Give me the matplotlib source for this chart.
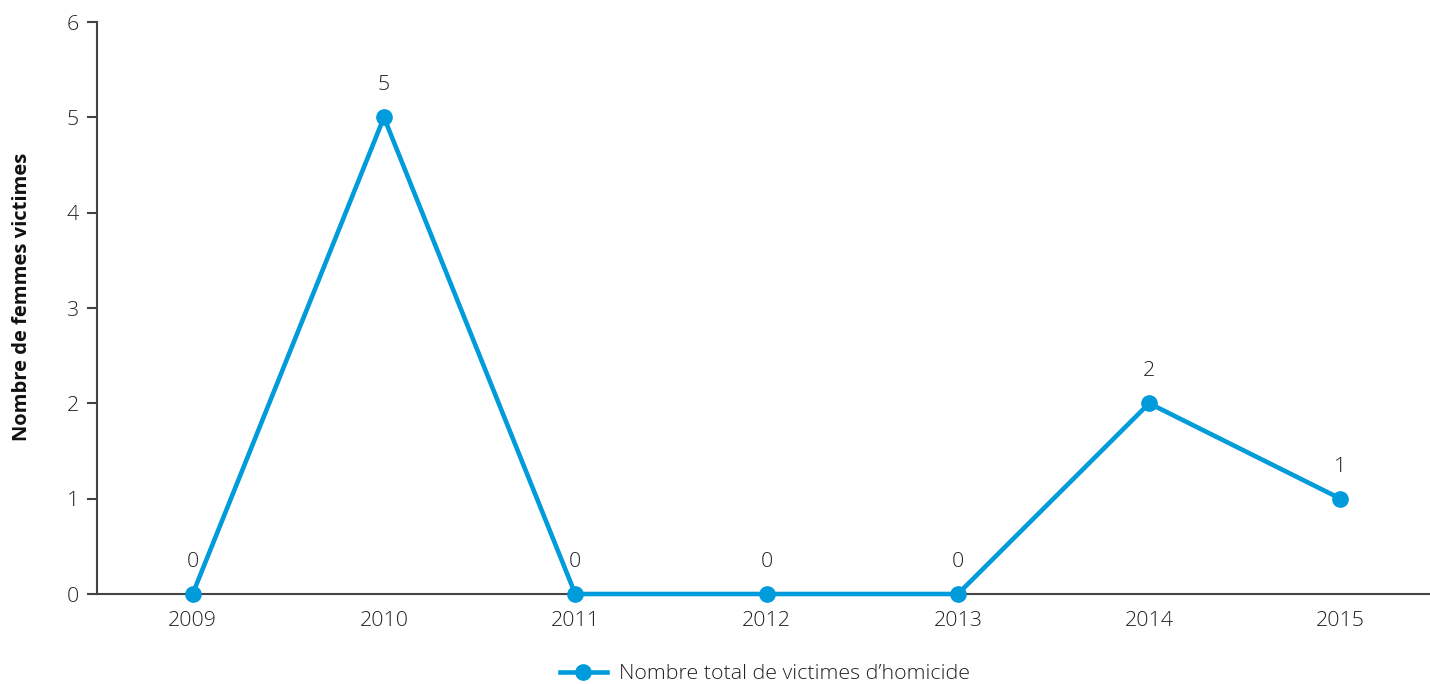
import matplotlib
matplotlib.use("Agg")
import matplotlib.pyplot as plt
from matplotlib.lines import Line2D

years = ["2009", "2010", "2011", "2012", "2013", "2014", "2015"]
victims = [0, 5, 0, 0, 0, 2, 1]
y_ticks = [0, 1, 2, 3, 4, 5, 6]
series_label = "Nombre total de victimes d\u2019homicide"
y_label = "Nombre de femmes victimes"

plt.rcParams['font.family'] = ['Open Sans', 'DejaVu Sans']
BLUE = "#009BDA"
AXC = "#444444"
TXT = "#222222"
FS = 15.4

W, H = 1430, 684
fig = plt.figure(figsize=(W / 100, H / 100), dpi=100)
L, B, T, R = 97, 594, 22, 1436
ax = fig.add_axes([L / W, (H - B) / H, (R - L) / W, (B - T) / H])

x = list(range(len(years)))
ax.plot(x, victims, color=BLUE, lw=3.3, marker="o", ms=11, clip_on=False, zorder=3)
for xi, v in zip(x, victims):
    ax.annotate(str(v), (xi, v), xytext=(0, 23), textcoords="offset points",
                ha="center", va="center", fontsize=FS, color=TXT, fontweight="light")

ax.set_xlim(-0.5, -0.5 + (R - L) / 191.3)
ax.set_ylim(0, 6)
ax.set_yticks(y_ticks)
ax.set_yticklabels([str(t) for t in y_ticks])
ax.set_xticks(x)
ax.set_xticklabels(years)
for sp in ["top", "right"]:
    ax.spines[sp].set_visible(False)
for sp in ["left", "bottom"]:
    ax.spines[sp].set_color(AXC)
    ax.spines[sp].set_linewidth(1.5)
ax.tick_params(axis="y", length=7, width=1.5, color=AXC, pad=6, labelsize=FS, labelcolor=TXT)
ax.tick_params(axis="x", length=0, pad=12, labelsize=FS, labelcolor=TXT)
for lab in ax.get_xticklabels() + ax.get_yticklabels():
    lab.set_fontweight("light")

fig.text(22 / W, 1 - 297 / H, y_label, rotation=90, ha="center", va="center",
         fontsize=14.5, fontweight="bold", color="#111111")

handle = Line2D([], [], color=BLUE, lw=3.3, marker="o", ms=11)
fig.legend([handle], [series_label], loc="center", bbox_to_anchor=(765 / W, 1 - 674 / H),
           frameon=False, handlelength=2.2, handletextpad=0.6,
           prop={"size": FS, "weight": "light"}, labelcolor=TXT)

fig.savefig("out.png", dpi=100)
